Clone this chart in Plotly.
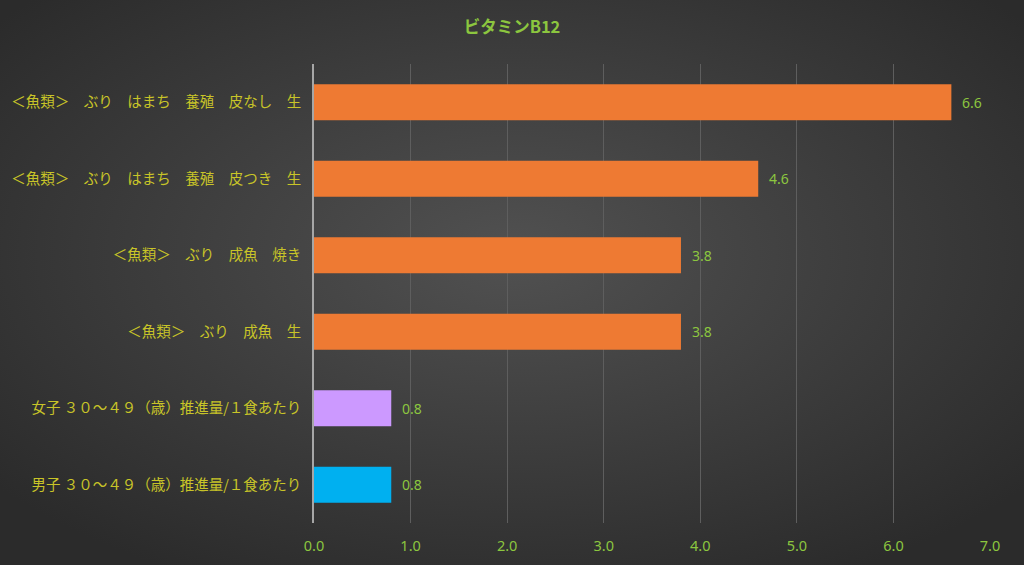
import base64
import plotly.graph_objects as go

categories = [
    "＜魚類＞　ぶり　はまち　養殖　皮なし　生",
    "＜魚類＞　ぶり　はまち　養殖　皮つき　生",
    "＜魚類＞　ぶり　成魚　焼き",
    "＜魚類＞　ぶり　成魚　生",
    "女子 ３０～４９（歳）推進量/１食あたり",
    "男子 ３０～４９（歳）推進量/１食あたり",
]
values = [6.6, 4.6, 3.8, 3.8, 0.8, 0.8]
value_labels = ["6.6", "4.6", "3.8", "3.8", "0.8", "0.8"]
bar_colors = ["#EE7A33", "#EE7A33", "#EE7A33", "#EE7A33", "#CC99FF", "#00B0F0"]
x_ticks = [0, 1, 2, 3, 4, 5, 6, 7]
x_tick_labels = ["0.0", "1.0", "2.0", "3.0", "4.0", "5.0", "6.0", "7.0"]

svg = """<svg xmlns='http://www.w3.org/2000/svg' width='1024' height='565'>
<defs><radialGradient id='g' cx='50%' cy='45%' r='65%'>
<stop offset='0%' stop-color='#515151'/><stop offset='100%' stop-color='#2b2b2b'/>
</radialGradient></defs>
<rect width='1024' height='565' fill='url(#g)'/></svg>"""
bg = "data:image/svg+xml;base64," + base64.b64encode(svg.encode()).decode()

fig = go.Figure()
fig.add_trace(go.Bar(
    y=categories, x=values, orientation="h",
    marker=dict(color=bar_colors, line=dict(width=0)),
    width=0.47,
))
for cat, v, lab in zip(categories, values, value_labels):
    fig.add_annotation(x=v, y=cat, text=lab, showarrow=False, xanchor="left",
                       xshift=9, font=dict(color="#8CC63F", size=14,
                                           family="Liberation Sans Narrow, Noto Sans"))
fig.update_layout(
    width=1024, height=565,
    margin=dict(l=314, r=34, t=64, b=42, autoexpand=False),
    paper_bgcolor="#3c3c3c", plot_bgcolor="rgba(0,0,0,0)",
    title=dict(text="<b>ビタミンB12</b>", x=0.5, xanchor="center", y=0.952, yanchor="middle",
               font=dict(color="#8CC63F", size=16.5, family="Noto Sans CJK JP")),
    images=[dict(source=bg, xref="paper", yref="paper", x=-314/676, y=1+64/459,
                 sizex=1024/676, sizey=565/459, xanchor="left", yanchor="top",
                 sizing="stretch", layer="below")],
    showlegend=False,
    bargap=0.53,
)
fig.update_xaxes(range=[0, 7], tickvals=x_ticks, ticktext=x_tick_labels,
                 showgrid=True, gridcolor="#5e5e5e", gridwidth=1,
                 zeroline=False, showline=False, ticks="", automargin=False,
                 tickfont=dict(color="#8CC63F", size=14.5, family="Liberation Sans Narrow, Noto Sans"),
                 ticklabelstandoff=12)
fig.update_yaxes(autorange="reversed", showgrid=False, ticks="", automargin=False,
                 showline=True, linecolor="#a6a6a6", linewidth=1.5,
                 tickfont=dict(color="#C8C428", size=14.5, family="Noto Sans CJK JP"),
                 ticklabelstandoff=8)
fig.write_html("out.html")
